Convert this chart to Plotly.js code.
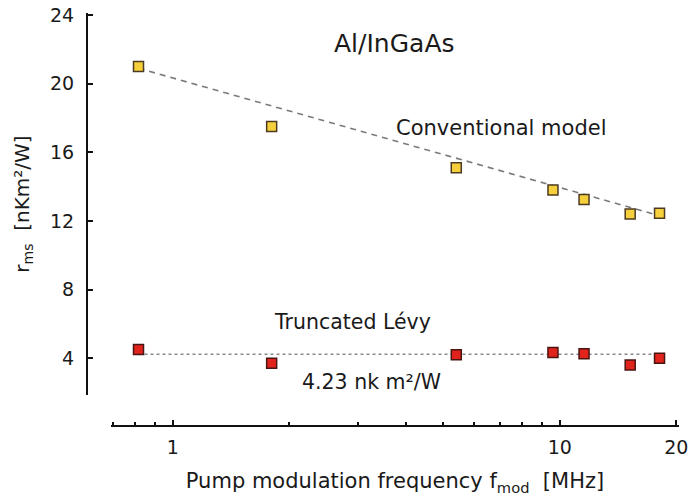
<!DOCTYPE html>
<html>
<head>
<meta charset="utf-8">
<script src="https://cdn.plot.ly/plotly-3.0.1.min.js"></script>
<style>html,body{margin:0;padding:0;background:#fff;}#chart{width:689px;height:498px;}</style>
</head>
<body>
<div id="chart"></div>
<script>
// Data
const freqMHz = [0.815, 1.8, 5.4, 9.6, 11.55, 15.2, 18.1];
const conventional = [21.0, 17.5, 15.1, 13.8, 13.25, 12.4, 12.45];
const truncatedLevy = [4.5, 3.7, 4.2, 4.33, 4.25, 3.6, 4.0];
const convFitX = [0.815, 18.1];
const convFitY = [20.9, 12.3];
const levyFitX = [0.815, 18.1];
const levyFitY = [4.23, 4.23];
const xTickVals = [1, 10, 20];
const xTickText = ['1', '10', '20'];
const xMinorVals = [0.7, 0.8, 0.9, 2, 3, 4, 5, 6, 7, 8, 9];
const yTickVals = [4, 8, 12, 16, 20, 24];

const FONT = 'DejaVu Sans, sans-serif';
const TXT = '#1a1a1a';

const traces = [
  {x: convFitX, y: convFitY, mode: 'lines', line: {color: '#7a7a7a', width: 1.6, dash: '6px,5px'}, hoverinfo: 'skip'},
  {x: levyFitX, y: levyFitY, mode: 'lines', line: {color: '#8a8a8a', width: 1.6, dash: '3px,3px'}, hoverinfo: 'skip'},
  {x: freqMHz, y: conventional, mode: 'markers', name: 'Conventional model',
   marker: {symbol: 'square', size: 10, color: '#f6d03c', line: {color: '#4d3a22', width: 1.5}}},
  {x: freqMHz, y: truncatedLevy, mode: 'markers', name: 'Truncated Lévy',
   marker: {symbol: 'square', size: 10, color: '#e0241c', line: {color: '#4a1410', width: 1.5}}}
];

const layout = {
  width: 689, height: 498,
  margin: {l: 87, r: 10, t: 13, b: 72},
  paper_bgcolor: '#fff', plot_bgcolor: '#fff',
  showlegend: false,
  font: {family: FONT, color: TXT, size: 19},
  xaxis: {
    type: 'log', range: [-0.160, 1.308],
    domain: [0.0405, 1], anchor: 'free', position: 0,
    showline: true, linecolor: '#111', linewidth: 2,
    ticks: 'inside', ticklen: 5, tickwidth: 2, tickcolor: '#111',
    tickmode: 'array', tickvals: xTickVals, ticktext: xTickText,
    ticklabelstandoff: 4,
    minor: {tickmode: 'array', tickvals: xMinorVals, ticks: 'inside', ticklen: 3, tickwidth: 2, tickcolor: '#111', showgrid: false},
    showgrid: false, zeroline: false,
    tickfont: {size: 19, family: FONT, color: TXT},
    title: {text: 'Pump modulation frequency f<sub>mod</sub>  [MHz]', font: {size: 21, family: FONT, color: TXT}, standoff: 16}
  },
  yaxis: {
    range: [1.85, 24.12],
    domain: [0.075, 1], anchor: 'free', position: 0,
    showline: true, linecolor: '#111', linewidth: 2,
    ticks: 'inside', ticklen: 5, tickwidth: 2, tickcolor: '#111',
    tickmode: 'array', tickvals: yTickVals,
    ticklabelstandoff: 8,
    showgrid: false, zeroline: false,
    tickfont: {size: 19, family: FONT, color: TXT},
    title: {text: 'r<sub>ms</sub>  [nKm²/W]', font: {size: 20, family: FONT, color: TXT}, standoff: 14}
  },
  annotations: [
    {text: 'Al/InGaAs', xref: 'paper', yref: 'paper', x: 0.520, y: 0.927, xanchor: 'center', yanchor: 'middle', showarrow: false, font: {size: 25, family: FONT, color: TXT}},
    {text: 'Conventional model', xref: 'paper', yref: 'paper', x: 0.699, y: 0.722, xanchor: 'center', yanchor: 'middle', showarrow: false, font: {size: 21, family: FONT, color: TXT}},
    {text: 'Truncated Lévy', xref: 'paper', yref: 'paper', x: 0.449, y: 0.252, xanchor: 'center', yanchor: 'middle', showarrow: false, font: {size: 20.5, family: FONT, color: TXT}},
    {text: '4.23 nk m²/W', xref: 'paper', yref: 'paper', x: 0.481, y: 0.107, xanchor: 'center', yanchor: 'middle', showarrow: false, font: {size: 20.5, family: FONT, color: TXT}}
  ]
};

Plotly.newPlot('chart', traces, layout, {displayModeBar: false, staticPlot: true});
</script>
</body>
</html>
